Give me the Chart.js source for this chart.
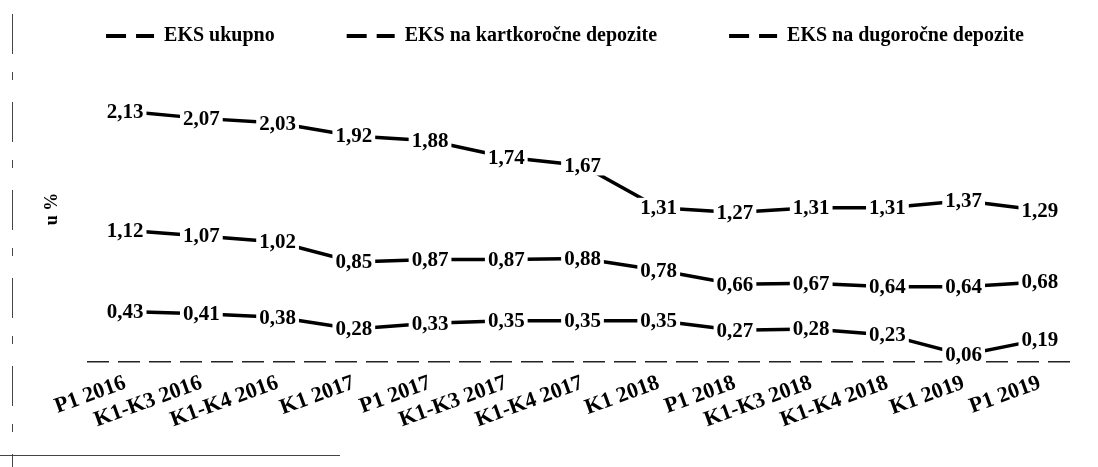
<!DOCTYPE html>
<html>
<head>
<meta charset="utf-8">
<script src="https://cdn.jsdelivr.net/npm/chart.js@4.4.1/dist/chart.umd.min.js"></script>
<style>
  html, body { margin: 0; padding: 0; background: #fff; }
  #wrap { width: 1098px; height: 467px; position: relative; }
</style>
</head>
<body>
<div id="wrap"><canvas id="chart"></canvas></div>
<script>
const categories = [
  "P1 2016", "K1-K3 2016", "K1-K4 2016", "K1 2017", "P1 2017", "K1-K3 2017",
  "K1-K4 2017", "K1 2018", "P1 2018", "K1-K3 2018", "K1-K4 2018", "K1 2019", "P1 2019"
];
const eksUkupno = [2.13, 2.07, 2.03, 1.92, 1.88, 1.74, 1.67, 1.31, 1.27, 1.31, 1.31, 1.37, 1.29];
const eksKratkorocni = [1.12, 1.07, 1.02, 0.85, 0.87, 0.87, 0.88, 0.78, 0.66, 0.67, 0.64, 0.64, 0.68];
const eksDugorocni = [0.43, 0.41, 0.38, 0.28, 0.33, 0.35, 0.35, 0.35, 0.27, 0.28, 0.23, 0.06, 0.19];
const seriesNames = ["EKS ukupno", "EKS na kartkoročne depozite", "EKS na dugoročne depozite"];

const FONT = "'Liberation Serif', 'Times New Roman', serif";

// value labels sit on the points, white box cuts the line
const valueLabels = {
  id: "valueLabels",
  afterDatasetsDraw(chart) {
    const ctx = chart.ctx;
    ctx.save();
    ctx.font = "bold 21px " + FONT;
    ctx.textAlign = "center";
    ctx.textBaseline = "middle";
    chart.data.datasets.forEach((ds, i) => {
      chart.getDatasetMeta(i).data.forEach((pt, j) => {
        const text = ds.data[j].toFixed(2).replace(".", ",");
        const w = ctx.measureText(text).width;
        ctx.fillStyle = "#fff";
        ctx.fillRect(pt.x - w / 2 - 3, pt.y - 10, w + 6, 20);
        ctx.fillStyle = "#000";
        ctx.fillText(text, pt.x, pt.y + 1);
      });
    });
    ctx.restore();
  }
};

// the scanned page frame: broken rule on the left, short rule at the bottom
const pageFrame = {
  id: "pageFrame",
  beforeDraw(chart) {
    const ctx = chart.ctx;
    ctx.save();
    ctx.strokeStyle = "#444";
    ctx.lineWidth = 1;
    ctx.setLineDash([40, 18, 8, 22]);
    ctx.beginPath();
    ctx.moveTo(12.5, 14);
    ctx.lineTo(12.5, chart.height);
    ctx.stroke();
    ctx.setLineDash([]);
    ctx.beginPath();
    ctx.moveTo(0, 455.5);
    ctx.lineTo(340, 455.5);
    ctx.stroke();
    ctx.restore();
  }
};

// legend row sits a bit right of centre in the original
const legendShift = {
  id: "legendShift",
  afterLayout(chart) {
    chart.legend.left += 26;
    chart.legend.right += 26;
  }
};

const line = (label, data) => ({
  label,
  data,
  borderColor: "#000",
  backgroundColor: "#000",
  borderWidth: 3.5,
  pointRadius: 0,
  tension: 0
});

new Chart(document.getElementById("chart"), {
  type: "line",
  data: {
    labels: categories,
    datasets: [
      line(seriesNames[0], eksUkupno),
      line(seriesNames[1], eksKratkorocni),
      line(seriesNames[2], eksDugorocni)
    ]
  },
  plugins: [pageFrame, legendShift, valueLabels],
  options: {
    responsive: true,
    maintainAspectRatio: false,
    animation: false,
    layout: { padding: { left: 0, right: 20, top: -46, bottom: 0 } },
    plugins: {
      tooltip: { enabled: false },
      legend: {
        position: "top",
        labels: {
          color: "#000",
          font: { family: FONT, size: 20, weight: "bold" },
          usePointStyle: true,
          pointStyleWidth: 48,
          boxHeight: 20,
          padding: 72,
          generateLabels(chart) {
            return chart.data.datasets.map((ds, i) => ({
              text: ds.label,
              fillStyle: "#000",
              strokeStyle: "#000",
              fontColor: "#000",
              lineWidth: 4,
              lineDash: [20, 10, 30],
              pointStyle: "line",
              hidden: false,
              datasetIndex: i
            }));
          }
        }
      }
    },
    scales: {
      x: {
        offset: true,
        grid: { display: false, drawTicks: false },
        border: { display: false },
        ticks: {
          color: "#000",
          font: { family: FONT, size: 22, weight: "bold" },
          minRotation: 20,
          maxRotation: 20,
          autoSkip: false,
          padding: 8
        },
        afterFit(scale) { scale.height = 105; }
      },
      y: {
        min: 0,
        max: 2.6,
        grid: {
          drawTicks: false,
          lineWidth: 1.5,
          color: c => (c.tick && c.tick.value === 0 ? "#222" : "rgba(0,0,0,0)")
        },
        border: { display: false, dash: [22, 9] },
        ticks: { display: false },
        title: {
          display: true,
          text: "u %",
          color: "#000",
          font: { family: FONT, size: 18, weight: "bold" },
          padding: { top: 42, bottom: 0 }
        },
        afterFit(scale) { scale.width = 87; }
      }
    }
  }
});
</script>
</body>
</html>
